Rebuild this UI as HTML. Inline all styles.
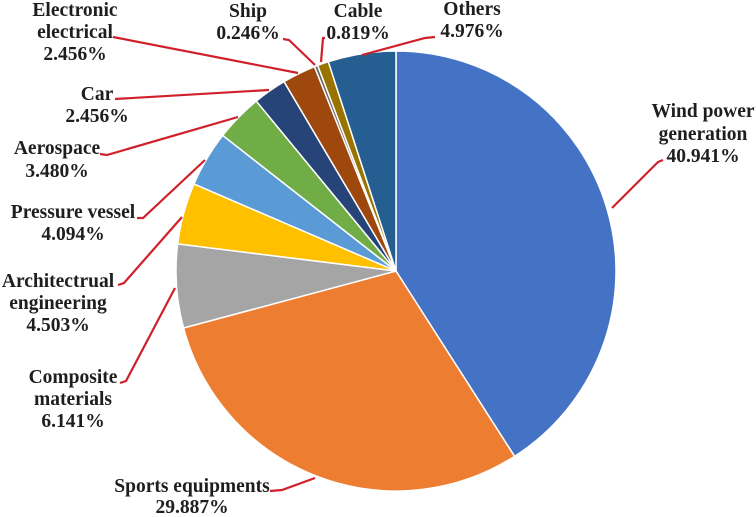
<!DOCTYPE html>
<html><head><meta charset="utf-8"><style>
html,body{margin:0;padding:0;background:#fff;}
svg{display:block;}
text{font-family:"Liberation Serif",serif;font-weight:bold;font-size:19.5px;fill:#1e1e1e;text-anchor:middle;}
</style></head><body>
<svg id="s" width="756" height="517" viewBox="0 0 756 517" xmlns="http://www.w3.org/2000/svg">
<g id="pie"></g>
<g stroke="#d0202a" stroke-width="2.2" fill="none">
<polyline points="113,37 298,73"/>
<polyline points="283,39 289,40 315,65"/>
<polyline points="325,38 323,38 321,62"/>
<polyline points="435,37 425,38 362,55"/>
<polyline points="115,99 269,90"/>
<polyline points="100,154 107,155 238,117"/>
<polyline points="137,218 143,218 205,160"/>
<polyline points="118,285 124,283 182,217"/>
<polyline points="120,383 126,381 175,288"/>
<polyline points="270,491 282,490 315,478"/>
<polyline points="663,160 658,162 612,208"/>
</g>
<text x="75" y="16">Electronic</text><text x="75" y="38">electrical</text><text x="75" y="60">2.456%</text>
<text x="248" y="17">Ship</text><text x="248" y="39">0.246%</text>
<text x="358" y="17">Cable</text><text x="358" y="39">0.819%</text>
<text x="472" y="15">Others</text><text x="472" y="37">4.976%</text>
<text x="97" y="100">Car</text><text x="97" y="122">2.456%</text>
<text x="57" y="154">Aerospace</text><text x="57" y="177">3.480%</text>
<text x="73" y="218">Pressure vessel</text><text x="73" y="240">4.094%</text>
<text x="58" y="287">Architectrual</text><text x="58" y="309">engineering</text><text x="58" y="331">4.503%</text>
<text x="73" y="383">Composite</text><text x="73" y="405">materials</text><text x="73" y="427">6.141%</text>
<text x="192" y="492">Sports equipments</text><text x="192" y="513">29.887%</text>
<text x="703" y="117">Wind power</text><text x="703" y="140">generation</text><text x="703" y="162">40.941%</text>
</svg>
<script>
var d=[[40.941,"#4472c4"],[29.887,"#ed7d31"],[6.141,"#a5a5a5"],[4.503,"#ffc000"],[4.094,"#5b9bd5"],[3.480,"#70ad47"],[2.456,"#264478"],[2.456,"#9e480e"],[0.246,"#636363"],[0.819,"#997300"],[4.976,"#255e91"]];
var tot=0;d.forEach(function(e){tot+=e[0];});
var cx=396,cy=271,r=220,a=0,g=document.getElementById("pie"),h="";
d.forEach(function(e){var a2=a+e[0]/tot*2*Math.PI;
var x1=cx+r*Math.sin(a),y1=cy-r*Math.cos(a),x2=cx+r*Math.sin(a2),y2=cy-r*Math.cos(a2);
h+='<path d="M'+cx+','+cy+'L'+x1.toFixed(2)+','+y1.toFixed(2)+'A'+r+','+r+' 0 '+((a2-a)>Math.PI?1:0)+' 1 '+x2.toFixed(2)+','+y2.toFixed(2)+'Z" fill="'+e[1]+'" stroke="#fff" stroke-width="1.5"/>';a=a2;});
g.innerHTML=h;
</script>
</body></html>
